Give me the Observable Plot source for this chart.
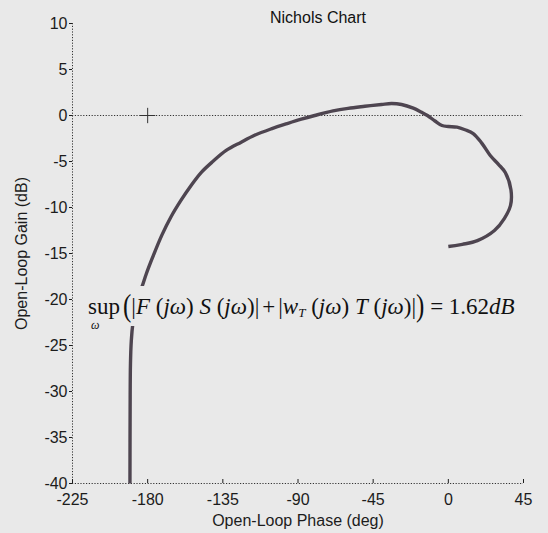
<!DOCTYPE html>
<html><head><meta charset="utf-8">
<script src="https://cdn.jsdelivr.net/npm/d3@7"></script>
<script src="https://cdn.jsdelivr.net/npm/@observablehq/plot@0.6"></script>
<style>
html,body{margin:0;padding:0;background:#e9e9e9;}
#wrap{position:relative;width:548px;height:533px;overflow:hidden;background:#e9e9e9;}
#title{position:absolute;left:218px;width:200px;top:9px;text-align:center;font:16px "Liberation Sans",Arial,sans-serif;color:#111;}
#eq{position:absolute;left:86px;top:286px;height:40px;padding:0 2px;background:#e9e9e9;font-family:"Liberation Serif","Times New Roman",serif;font-size:23px;color:#111;white-space:nowrap;line-height:40px;}
#eq i{font-style:italic;}
#eq .sup{position:relative;display:inline-block;margin-right:3px;line-height:26px;}
#eq .om{position:absolute;left:3px;top:25px;font-size:12px;font-style:italic;line-height:12px;}
#eq .bp{display:inline-block;transform:scaleY(1.3);font-size:25px;}
#eq .s{margin:0 3px;}
#eq sub{font-size:13px;vertical-align:-3px;}
</style></head>
<body><div id="wrap"></div>
<script>
const titleText = "Nichols Chart";
const xLabel = "Open-Loop Phase (deg)";
const yLabel = "Open-Loop Gain (dB)";
const xDomain = [-225, 45];
const yDomain = [-40, 10];
const xTicks = [-225, -180, -135, -90, -45, 0, 45];
const yTicks = [-40, -35, -30, -25, -20, -15, -10, -5, 0, 5, 10];
const critPhase = [-180];
const critGain = [0];
// Nichols curve (open-loop phase in deg, gain in dB)
const phase = [-190.6, -190.5, -190.3, -189.8, -188.8, -187.2, -185.5, -183.5, -180.8, -177.0, -171.5, -166.0, -160.0, -154.0, -148.0, -141.0, -133.0, -124.0, -116.0, -106.0, -96.0, -88.0, -80.0, -69.0, -60.0, -50.0, -40.0, -34.0, -28.0, -21.0, -16.0, -12.5, -8.0, -3.8, 0.0, 5.2, 10.0, 14.9, 20.0, 25.1, 30.0, 34.1, 37.5, 37.2, 33.5, 27.6, 17.4, 8.4, 0.0];
const gain  = [-40, -32, -27, -24.5, -22.5, -20.8, -19.6, -18.66, -17.2, -15.4, -13.0, -11.0, -9.2, -7.6, -6.2, -5.0, -3.8, -2.9, -2.15, -1.45, -0.85, -0.4, 0.0, 0.5, 0.78, 1.0, 1.2, 1.3, 1.2, 0.8, 0.35, 0.0, -0.6, -1.09, -1.2, -1.27, -1.55, -1.96, -3.0, -4.35, -5.3, -6.2, -8.1, -9.8, -11.2, -12.5, -13.6, -14.0, -14.24];

const curve = phase.map((p, i) => ({phase: p, gain: gain[i]}));
const dotted = {stroke: "#333", strokeWidth: 1, strokeDasharray: "1.2,1.6"};
const fmt = d => String(d);

const chart = Plot.plot({
  width: 548, height: 533,
  marginLeft: 72, marginRight: 25, marginTop: 23, marginBottom: 50,
  style: {background: "transparent", fontFamily: "'Liberation Sans', Arial, sans-serif", fontSize: "16px", color: "#1c1c1c"},
  x: {domain: xDomain},
  y: {domain: yDomain},
  marks: [
    Plot.ruleX([xDomain[0]], dotted),
    Plot.ruleY([yDomain[0]], dotted),
    Plot.ruleY([0], dotted),
    Plot.axisX({ticks: xTicks, tickFormat: fmt, tickSize: -4, tickPadding: 14, label: xLabel, labelAnchor: "center", labelOffset: 42, labelArrow: false}),
    Plot.axisY({ticks: yTicks, tickFormat: fmt, tickSize: 3, tickPadding: 2, label: yLabel, labelAnchor: "center", labelOffset: 57, labelArrow: false}),
    Plot.dot(critPhase.map((p, i) => ({p, g: critGain[i]})), {x: "p", y: "g", symbol: "plus", r: 5, stroke: "#333", strokeWidth: 1}),
    Plot.line(curve, {x: "phase", y: "gain", curve: "catmull-rom", stroke: "#4e4550", strokeWidth: 3.4, strokeLinecap: "butt"})
  ]
});
const wrap = document.getElementById("wrap");
wrap.appendChild(chart);
const t = document.createElement("div");
t.id = "title"; t.textContent = titleText;
wrap.appendChild(t);
const eq = document.createElement("div");
eq.id = "eq";
eq.innerHTML = '<span class="sup">sup<span class="om">ω</span></span><span class="bp">(</span>|<i>F</i> (<i>jω</i>) <i>S</i> (<i>jω</i>)|<span class="s">+</span>|<i>w</i><sub><i>T</i></sub> (<i>jω</i>) <i>T</i> (<i>jω</i>)|<span class="bp">)</span> = 1.62<i>dB</i>';
wrap.appendChild(eq);
</script>
</body></html>
